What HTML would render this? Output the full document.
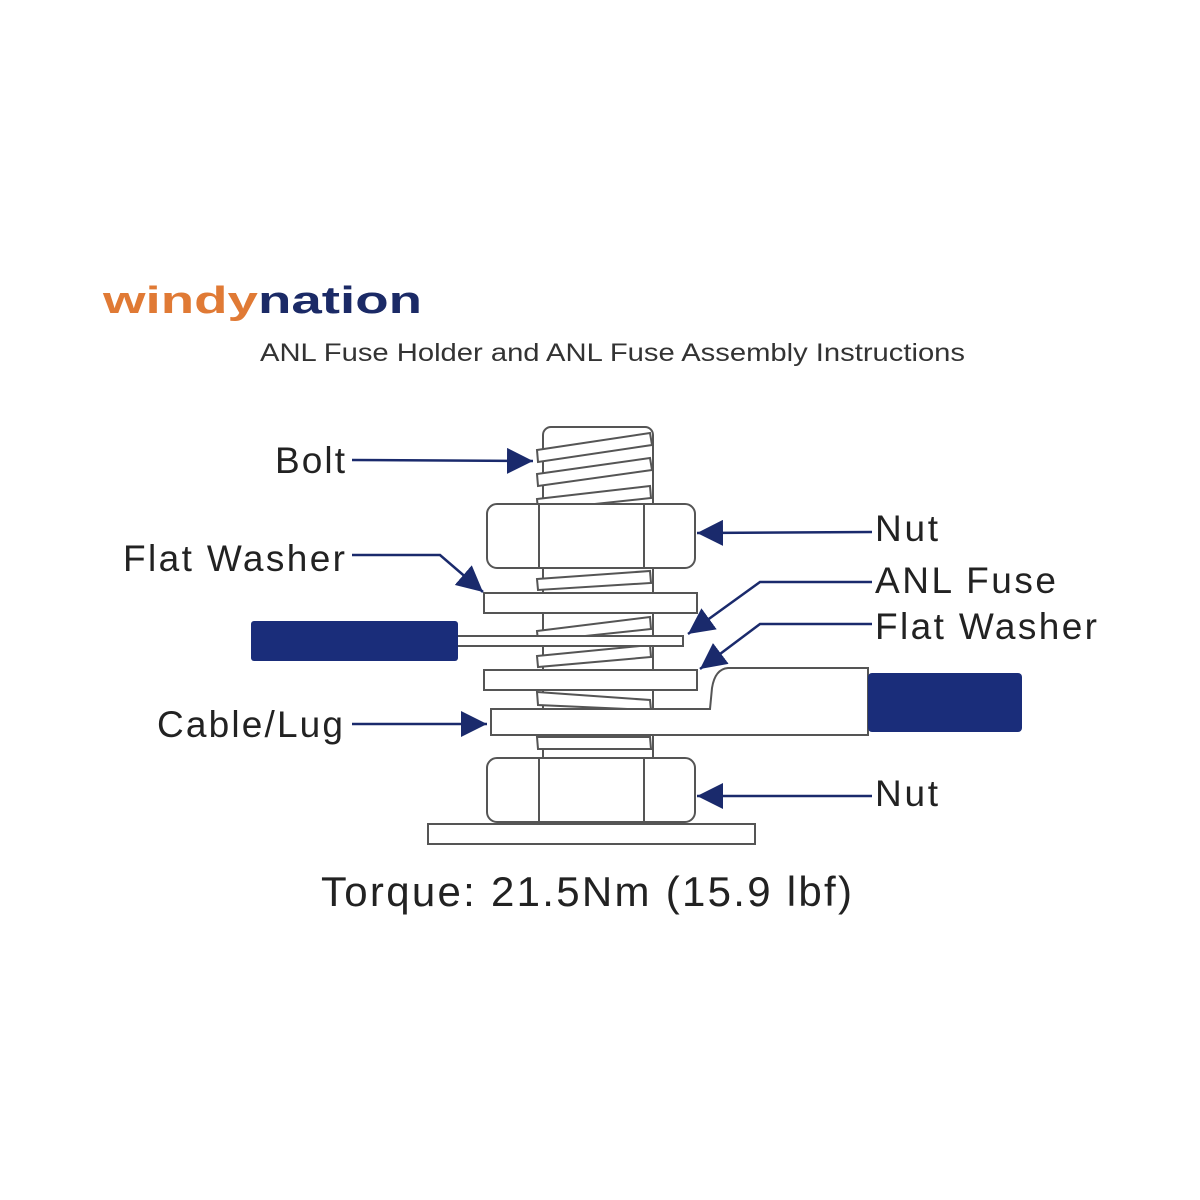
<!DOCTYPE html>
<html><head><meta charset="utf-8"><style>
html,body{margin:0;padding:0;background:#fff;}
svg{display:block;}
</style></head><body>
<svg width="1200" height="1200" viewBox="0 0 1200 1200" xmlns="http://www.w3.org/2000/svg">
<defs>
<marker id="a" viewBox="0 0 10 10" refX="10" refY="5" markerWidth="26" markerHeight="26" markerUnits="userSpaceOnUse" orient="auto">
<path d="M0,0 L10,5 L0,10 z" fill="#1a2a6c"/>
</marker>
</defs>
<rect width="1200" height="1200" fill="#fff"/>
<text x="103" y="313" font-family="Liberation Sans, sans-serif" font-weight="bold" font-size="38" textLength="319" lengthAdjust="spacingAndGlyphs"><tspan fill="#e07a35">windy</tspan><tspan fill="#1b2a66">nation</tspan></text>
<text x="260" y="361" font-family="Liberation Sans, sans-serif" font-size="25" fill="#333" textLength="705" lengthAdjust="spacingAndGlyphs">ANL Fuse Holder and ANL Fuse Assembly Instructions</text>

<g fill="#fff" stroke="#555" stroke-width="2">
<rect x="543" y="427" width="110" height="340" rx="8"/>
<g fill="#fff">
<path d="M537,450 L650,433 L652,445 L538,462 z"/>
<path d="M537,474 L650,458 L652,470 L538,486 z"/>
<path d="M537,499 L650,486 L651,498 L538,510 z"/>
<path d="M537,579 L650,571 L651,583 L538,590 z"/>
<path d="M537,631 L650,617 L651,629 L538,641 z"/>
<path d="M537,656 L650,645 L651,657 L538,667 z"/>
<path d="M537,692 L650,700 L651,710 L538,705 z"/>
<path d="M537,737 L650,737 L651,749 L538,749 z"/>
</g>
<rect x="487" y="504" width="208" height="64" rx="10"/>
<line x1="539" y1="504" x2="539" y2="568"/>
<line x1="644" y1="504" x2="644" y2="568"/>
<rect x="484" y="593" width="213" height="20"/>
<rect x="455" y="636" width="228" height="10"/>
<rect x="484" y="670" width="213" height="20"/>
<path d="M491,709 L710,709 L712,688 Q715,669 728,668 L868,668 L868,735 L491,735 z"/>
<rect x="487" y="758" width="208" height="64" rx="10"/>
<line x1="539" y1="758" x2="539" y2="822"/>
<line x1="644" y1="758" x2="644" y2="822"/>
<rect x="428" y="824" width="327" height="20"/>
</g>
<rect x="251" y="621" width="207" height="40" rx="3" fill="#1a2d7a"/>
<rect x="868" y="673" width="154" height="59" rx="4" fill="#1a2d7a"/>

<g stroke="#1a2a6c" stroke-width="2.5" fill="none" marker-end="url(#a)">
<line x1="352" y1="460" x2="533" y2="461"/>
<line x1="872" y1="532" x2="697" y2="533"/>
<polyline points="352,555 440,555 483,592"/>
<polyline points="872,582 760,582 688,634"/>
<polyline points="872,624 760,624 700,669"/>
<line x1="352" y1="724" x2="487" y2="724"/>
<line x1="872" y1="796" x2="697" y2="796"/>
</g>

<g font-family="Liberation Sans, sans-serif" font-size="37" fill="#222" lengthAdjust="spacingAndGlyphs">
<text x="275" y="473" textLength="70">Bolt</text>
<text x="123" y="571" textLength="222">Flat Washer</text>
<text x="875" y="541" textLength="63">Nut</text>
<text x="875" y="593" textLength="181">ANL Fuse</text>
<text x="875" y="639" textLength="222">Flat Washer</text>
<text x="157" y="737" textLength="186">Cable/Lug</text>
<text x="875" y="806" textLength="63">Nut</text>
<text x="321" y="906" font-size="42" textLength="531">Torque: 21.5Nm (15.9 lbf)</text>
</g>
</svg>
</body></html>
